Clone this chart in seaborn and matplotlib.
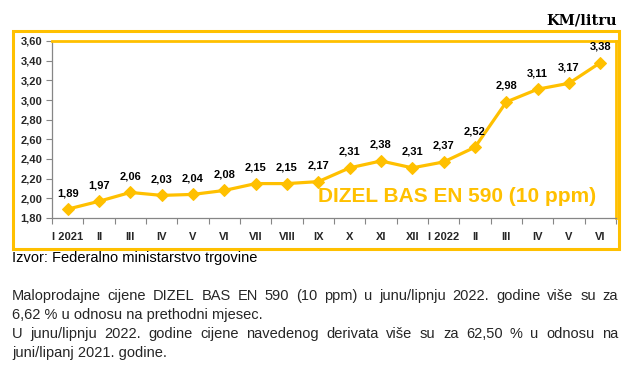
import matplotlib
matplotlib.use("Agg")
import matplotlib.pyplot as plt
import seaborn as sns
import pandas as pd
from matplotlib.patches import Rectangle
from matplotlib.ticker import FuncFormatter, FixedLocator

# Data
months = ['I 2021', 'II', 'III', 'IV', 'V', 'VI', 'VII', 'VIII', 'IX', 'X',
          'XI', 'XII', 'I 2022', 'II', 'III', 'IV', 'V', 'VI']
prices = [1.89, 1.97, 2.06, 2.03, 2.04, 2.08, 2.15, 2.15, 2.17, 2.31,
          2.38, 2.31, 2.37, 2.52, 2.98, 3.11, 3.17, 3.38]
y_ticks = [1.80, 2.00, 2.20, 2.40, 2.60, 2.80, 3.00, 3.20, 3.40, 3.60]

df = pd.DataFrame({'idx': range(len(months)), 'price': prices})

gold = '#FFC000'
grey = '#868686'

sns.set_theme(style="white")
plt.rcParams['font.family'] = ['Liberation Sans', 'DejaVu Sans']

fig = plt.figure(figsize=(6.31, 3.74), dpi=100)
W, H = 631, 374
ax = fig.add_axes([52 / W, (H - 218) / H, (616 - 52) / W, (218 - 41) / H])

sns.lineplot(data=df, x='idx', y='price', ax=ax, color=gold, linewidth=2.3,
             marker='D', markersize=6.5, markeredgecolor=gold, markerfacecolor=gold)

ax.set_xlim(-0.5, len(months) - 0.5)
ax.set_ylim(y_ticks[0], y_ticks[-1])
ax.set_xlabel('')
ax.set_ylabel('')

# y axis
ax.yaxis.set_major_locator(FixedLocator(y_ticks))
ax.yaxis.set_major_formatter(FuncFormatter(lambda v, p: f'{v:.2f}'.replace('.', ',')))
ax.tick_params(axis='y', which='major', direction='out', length=4, width=0.8,
               color=grey, left=True, labelsize=8, pad=3)
for lab in ax.get_yticklabels():
    lab.set_fontweight('bold')

# x axis: ticks at boundaries, labels at centres
ax.xaxis.set_major_locator(FixedLocator([i - 0.5 for i in range(len(months) + 1)]))
ax.xaxis.set_major_formatter(FuncFormatter(lambda v, p: ''))
ax.xaxis.set_minor_locator(FixedLocator(list(range(len(months)))))
ax.set_xticklabels(months, minor=True, fontsize=8, fontweight='bold')
ax.tick_params(axis='x', which='major', direction='out', length=4, width=0.8,
               color=grey, bottom=True)
ax.tick_params(axis='x', which='minor', length=0, pad=10)

for side in ['left', 'bottom']:
    ax.spines[side].set_color(grey)
    ax.spines[side].set_linewidth(0.9)
for side in ['top', 'right']:
    ax.spines[side].set_color(gold)
    ax.spines[side].set_linewidth(2)

# data labels
for i, v in enumerate(prices):
    ax.annotate(f'{v:.2f}'.replace('.', ','), (i, v), xytext=(0, 8),
                textcoords='offset points', ha='center', va='bottom',
                fontsize=8, fontweight='bold', color='black')

ax.text(0.718, 0.119, 'DIZEL BAS EN 590 (10 ppm)', transform=ax.transAxes,
        ha='center', va='center', fontsize=15, fontweight='bold', color=gold)

# outer frame
fig.patches.append(Rectangle((13 / W, (H - 249) / H), (619 - 13) / W, (249 - 31) / H,
                             transform=fig.transFigure, fill=False,
                             edgecolor=gold, linewidth=2.2, zorder=0))

fig.text(617 / W, (H - 21) / H, 'KM/litru', ha='right', va='center',
         fontsize=10.5, fontweight='bold', family=['DejaVu Serif'], color='black')

body_size = 10.5
fig.text(12 / W, (H - 258) / H, 'Izvor: Federalno ministarstvo trgovine',
         ha='left', va='center', fontsize=body_size, color='black')

lines = [
    ('Maloprodajne cijene DIZEL BAS EN 590 (10 ppm) u junu/lipnju 2022. godine više su za', True),
    ('6,62 % u odnosu na prethodni mjesec.', False),
    ('U junu/lipnju 2022. godine cijene navedenog derivata više su za 62,50 % u odnosu na', True),
    ('juni/lipanj 2021. godine.', False),
]
line_y = [296, 315, 334, 353]

# justified paragraph lines
fig.canvas.draw()
renderer = fig.canvas.get_renderer()
left_px, right_px = 12, 618
for (txt, justify), yy in zip(lines, line_y):
    if not justify:
        fig.text(left_px / W, (H - yy) / H, txt, ha='left', va='center', fontsize=body_size)
        continue
    words = txt.split(' ')
    widths = []
    for w in words:
        t = fig.text(0, 0, w, fontsize=body_size)
        widths.append(t.get_window_extent(renderer).width)
        t.remove()
    gap = (right_px - left_px - sum(widths)) / (len(words) - 1)
    x = left_px
    for w, wd in zip(words, widths):
        fig.text(x / W, (H - yy) / H, w, ha='left', va='center', fontsize=body_size)
        x += wd + gap

fig.savefig('out.png', dpi=100)
